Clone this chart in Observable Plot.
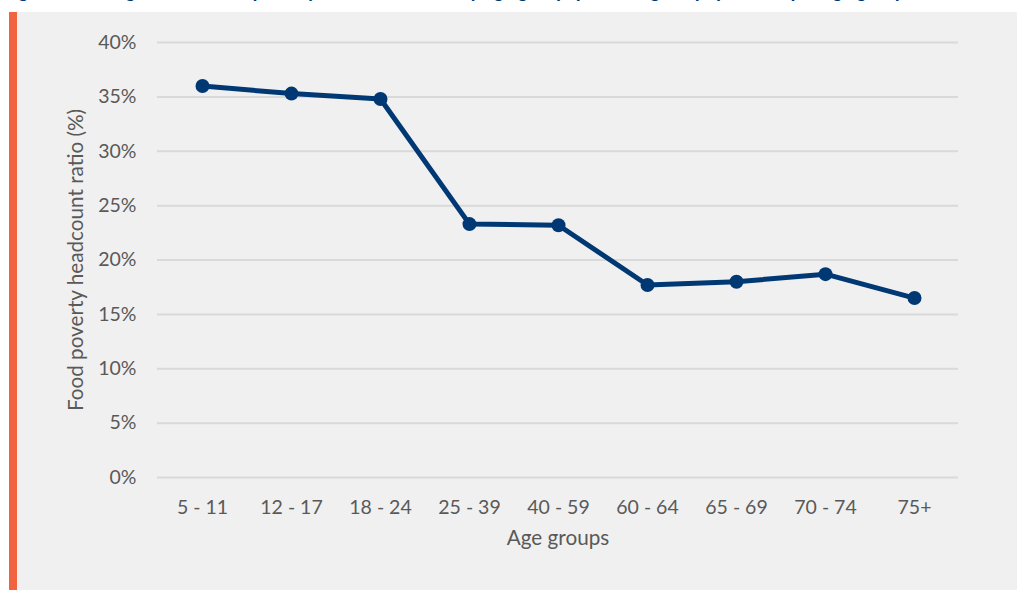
<!DOCTYPE html>
<html>
<head>
<meta charset="utf-8">
<script src="https://cdn.jsdelivr.net/npm/d3@7"></script>
<script src="https://cdn.jsdelivr.net/npm/@observablehq/plot@0.6"></script>
<style>
  html, body { margin: 0; padding: 0; background: #ffffff; }
  #wrap { position: relative; width: 1017px; height: 590px; overflow: hidden; }
  #title { position: absolute; left: 4px; top: -21px; white-space: nowrap; font-family: Lato, sans-serif; font-weight: bold; font-style: italic; font-size: 20px; line-height: 20px; color: #003874; }
  #panel { position: absolute; left: 17px; top: 12px; width: 1000px; height: 578px; background: #f0f0f0; }
  #accent { position: absolute; left: 9px; top: 12px; width: 8px; height: 578px; background: #f26440; }
  #chart { position: absolute; left: 0; top: 0; }
</style>
</head>
<body>
<div id="wrap">
  <div id="title">Figure 2: Changes in the food poverty headcount ratio by age group, percentage of population per age group</div>
  <div id="panel"></div>
  <div id="accent"></div>
  <div id="chart"></div>
</div>
<script>
const ageGroups = ["5 - 11", "12 - 17", "18 - 24", "25 - 39", "40 - 59", "60 - 64", "65 - 69", "70 - 74", "75+"];
const headcountRatio = [36.0, 35.3, 34.8, 23.3, 23.2, 17.7, 18.0, 18.7, 16.5];
const yTicks = [0, 5, 10, 15, 20, 25, 30, 35, 40];
const yLabel = "Food poverty headcount ratio (%)";
const xLabel = "Age groups";

const data = ageGroups.map((g, i) => ({group: g, value: headcountRatio[i]}));

const chart = Plot.plot({
  width: 1017,
  height: 590,
  marginLeft: 157,
  marginRight: 59,
  marginTop: 42,
  marginBottom: 113,
  style: {background: "transparent", fontFamily: "Lato, sans-serif", fontSize: "19.5px", color: "#595959"},
  x: {type: "point", domain: ageGroups, padding: 0.5, label: null},
  y: {domain: [0, 40], label: null},
  marks: [
    Plot.ruleY(yTicks, {stroke: "#d9d9d9", strokeWidth: 2}),
    Plot.axisY(yTicks, {tickSize: 0, tickPadding: 21, tickFormat: d => d + "%", label: null, fill: "#595959"}),
    Plot.axisX({tickSize: 0, tickPadding: 23, label: null, fill: "#595959"}),
    Plot.line(data, {x: "group", y: "value", stroke: "#003874", strokeWidth: 5, strokeLinejoin: "round"}),
    Plot.dot(data, {x: "group", y: "value", r: 7, fill: "#003874", stroke: null}),
    Plot.text([yLabel], {frameAnchor: "left", textAnchor: "middle", dx: -81, rotate: -90, fill: "#595959", fontSize: 20.7}),
    Plot.text([xLabel], {frameAnchor: "bottom", dy: 67, fill: "#595959", fontSize: 20.7})
  ]
});
document.getElementById("chart").appendChild(chart);
</script>
</body>
</html>
